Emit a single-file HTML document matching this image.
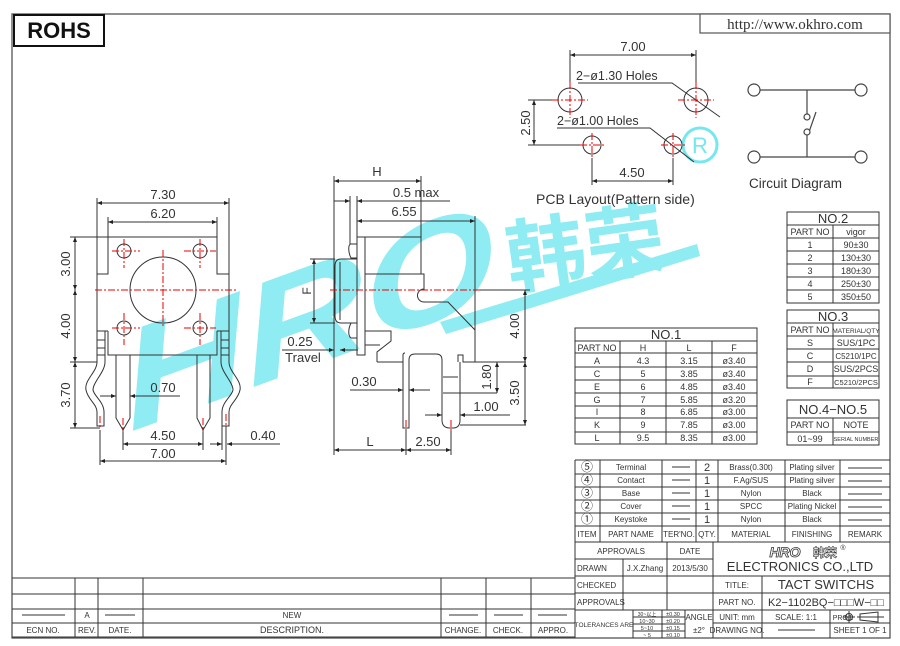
<!DOCTYPE html>
<html><head><meta charset="utf-8"><style>
html,body{margin:0;padding:0;background:#fff;width:900px;height:646px;overflow:hidden}
svg{display:block}
text{font-family:"Liberation Sans","Noto Sans CJK SC",sans-serif;fill:#333}
</style></head><body>
<svg width="900" height="646" viewBox="0 0 900 646" xmlns="http://www.w3.org/2000/svg">
<defs>
<marker id="a" viewBox="0 0 10 10" refX="10" refY="5" markerWidth="7" markerHeight="5" orient="auto-start-reverse" markerUnits="userSpaceOnUse"><path d="M0,1 L10,5 L0,9 z" fill="#222"/></marker>
</defs>

<!-- watermark -->
<g opacity="0.8">
<text x="0" y="0" transform="translate(130,432) rotate(-20) skewX(-12)" font-size="138" font-weight="bold" font-style="italic" textLength="395" lengthAdjust="spacingAndGlyphs" style="fill:#74e8ef">HRO</text>
<text x="0" y="0" transform="translate(510,288) rotate(-8)" font-size="80" font-weight="bold" textLength="160" lengthAdjust="spacingAndGlyphs" style="fill:#74e8ef;font-family:'Noto Sans CJK SC',sans-serif">韩荣</text>
<polygon points="440,322 697,244 700,256 446,334" fill="#74e8ef"/>
</g>
<circle cx="700" cy="145" r="17" fill="none" stroke="#74e8ef" stroke-width="3"/>
<text x="700" y="153" font-size="22" text-anchor="middle" style="fill:#74e8ef">R</text>

<!-- frame -->
<g fill="none" stroke="#555" stroke-width="1.3">
<rect x="12" y="14" width="878" height="624"/>
</g>
<rect x="14" y="15" width="90" height="31" fill="#fff" stroke="#111" stroke-width="2"/>
<text x="59" y="38" font-size="22" font-weight="bold" text-anchor="middle" style="fill:#111">ROHS</text>
<rect x="700" y="14" width="190" height="19" fill="#fff" stroke="#555" stroke-width="1.2"/>
<text x="795" y="29" font-size="15" text-anchor="middle" style="font-family:'Liberation Serif',serif">http://www.okhro.com</text>

<!-- PCB layout -->
<g stroke="#333" stroke-width="1" fill="none">
<circle cx="570" cy="100" r="12"/><circle cx="696" cy="100" r="12"/>
<circle cx="592" cy="145" r="9"/><circle cx="673" cy="145" r="9"/>
<line x1="570" y1="50" x2="570" y2="84"/><line x1="696" y1="50" x2="696" y2="84"/>
<line x1="570" y1="55" x2="696" y2="55" marker-start="url(#a)" marker-end="url(#a)"/>
<polyline points="578,83 672,83 720,117"/>
<polyline points="557,128 650,128 694,162"/>
<line x1="528" y1="100" x2="558" y2="100"/><line x1="528" y1="145" x2="580" y2="145"/>
<line x1="534" y1="100" x2="534" y2="145" marker-start="url(#a)" marker-end="url(#a)"/>
<line x1="592" y1="158" x2="592" y2="185"/><line x1="673" y1="158" x2="673" y2="185"/>
<line x1="592" y1="181" x2="673" y2="181" marker-start="url(#a)" marker-end="url(#a)"/>
</g>
<g stroke="#e00" stroke-width="1" stroke-dasharray="7,2,2,2">
<line x1="552" y1="100" x2="588" y2="100"/><line x1="570" y1="82" x2="570" y2="118"/>
<line x1="678" y1="100" x2="714" y2="100"/><line x1="696" y1="82" x2="696" y2="118"/>
<line x1="580" y1="145" x2="604" y2="145"/><line x1="592" y1="133" x2="592" y2="157"/>
<line x1="661" y1="145" x2="685" y2="145"/><line x1="673" y1="133" x2="673" y2="157"/>
</g>
<text x="633" y="51" font-size="13" text-anchor="middle">7.00</text>
<text x="576" y="80" font-size="12.5">2−ø1.30  Holes</text>
<text x="557" y="125" font-size="12.5">2−ø1.00  Holes</text>
<text x="0" y="0" transform="translate(530,123) rotate(-90)" font-size="13" text-anchor="middle">2.50</text>
<text x="632" y="177" font-size="13" text-anchor="middle">4.50</text>
<text x="536" y="204" font-size="14">PCB  Layout(Pattern  side)</text>

<!-- circuit -->
<g stroke="#444" stroke-width="1.2" fill="#fff">
<line x1="760" y1="90" x2="855" y2="90"/><line x1="760" y1="157" x2="855" y2="157"/>
<line x1="807" y1="90" x2="807" y2="114"/><line x1="807" y1="135" x2="807" y2="157"/>
<line x1="809" y1="132" x2="816" y2="112"/>
<circle cx="754" cy="90" r="6"/><circle cx="861" cy="90" r="6"/>
<circle cx="754" cy="157" r="6"/><circle cx="861" cy="157" r="6"/>
<circle cx="807" cy="117" r="3"/><circle cx="807" cy="132" r="3"/>
</g>
<text x="749" y="188" font-size="13.5">Circuit  Diagram</text>

<!-- front view -->
<g stroke="#333" stroke-width="1" fill="none">
<path d="M97,331 V274 H108 V237 H217 V274 H229 V331"/>
<path d="M108,331 V355 H217 V331"/>
<line x1="97" y1="331" x2="108" y2="331"/><line x1="217" y1="331" x2="229" y2="331"/>
<circle cx="163" cy="290" r="33"/>
<circle cx="124" cy="251" r="7"/><circle cx="200" cy="251" r="7"/>
<circle cx="124" cy="328" r="7"/><circle cx="200" cy="328" r="7"/>
<path d="M97,331 V362 C97,372 84,380 86,390 C88,400 97,404 97,412 V426 H104 V412 C104,402 94,396 93,390 C93,382 105,372 105,362 V331"/>
<path d="M229,331 V362 C229,372 242,380 240,390 C238,400 229,404 229,412 V426 H222 V412 C222,402 232,396 233,390 C233,382 221,372 221,362 V331"/>
<line x1="97" y1="340" x2="105" y2="340"/><line x1="97" y1="348" x2="105" y2="348"/><line x1="97" y1="355" x2="105" y2="355"/>
<line x1="221" y1="340" x2="229" y2="340"/><line x1="221" y1="348" x2="229" y2="348"/><line x1="221" y1="355" x2="229" y2="355"/>
<path d="M116,355 V418 L123,430 L130,418 V355"/>
<path d="M197,355 V418 L203,430 L210,418 V355"/>
<line x1="97" y1="198" x2="97" y2="274"/><line x1="229" y1="198" x2="229" y2="274"/>
<line x1="108" y1="217" x2="108" y2="237"/><line x1="217" y1="217" x2="217" y2="237"/>
<line x1="97" y1="203" x2="229" y2="203" marker-start="url(#a)" marker-end="url(#a)"/>
<line x1="108" y1="222" x2="217" y2="222" marker-start="url(#a)" marker-end="url(#a)"/>
<line x1="70" y1="237" x2="108" y2="237"/><line x1="70" y1="362" x2="97" y2="362"/><line x1="70" y1="428" x2="100" y2="428"/>
<line x1="75" y1="237" x2="75" y2="290" marker-start="url(#a)" marker-end="url(#a)"/>
<line x1="75" y1="290" x2="75" y2="362" marker-start="url(#a)" marker-end="url(#a)"/>
<line x1="75" y1="362" x2="75" y2="428" marker-start="url(#a)" marker-end="url(#a)"/>
<line x1="100" y1="396" x2="116" y2="396" marker-end="url(#a)"/>
<line x1="180" y1="396" x2="130" y2="396" marker-end="url(#a)"/>
<line x1="100" y1="430" x2="100" y2="465"/><line x1="123" y1="430" x2="123" y2="450"/>
<line x1="203" y1="430" x2="203" y2="450"/><line x1="222" y1="426" x2="222" y2="450"/><line x1="226" y1="426" x2="226" y2="465"/>
<line x1="123" y1="444" x2="203" y2="444" marker-start="url(#a)" marker-end="url(#a)"/>
<line x1="210" y1="444" x2="222" y2="444" marker-end="url(#a)"/>
<line x1="280" y1="444" x2="227" y2="444" marker-end="url(#a)"/>
<line x1="100" y1="461" x2="226" y2="461" marker-start="url(#a)" marker-end="url(#a)"/>
</g>
<g stroke="#e00" stroke-width="1" stroke-dasharray="7,2,2,2">
<line x1="95" y1="290" x2="237" y2="290"/><line x1="163" y1="250" x2="163" y2="326"/>
<line x1="112" y1="251" x2="140" y2="251"/><line x1="124" y1="239" x2="124" y2="268"/>
<line x1="184" y1="251" x2="216" y2="251"/><line x1="200" y1="239" x2="200" y2="268"/>
<line x1="112" y1="328" x2="140" y2="328"/><line x1="124" y1="313" x2="124" y2="345"/>
<line x1="184" y1="328" x2="216" y2="328"/><line x1="200" y1="313" x2="200" y2="345"/>
<line x1="100" y1="416" x2="100" y2="428"/><line x1="123" y1="418" x2="123" y2="432"/>
<line x1="203" y1="418" x2="203" y2="432"/><line x1="226" y1="414" x2="226" y2="428"/>
</g>
<g font-size="13" text-anchor="middle">
<text x="163" y="199">7.30</text>
<text x="163" y="218">6.20</text>
<text x="0" y="0" transform="translate(70,264) rotate(-90)">3.00</text>
<text x="0" y="0" transform="translate(70,326) rotate(-90)">4.00</text>
<text x="0" y="0" transform="translate(70,395) rotate(-90)">3.70</text>
<text x="163" y="392">0.70</text>
<text x="163" y="440">4.50</text>
<text x="163" y="458">7.00</text>
<text x="263" y="440">0.40</text>
</g>

<!-- side view -->
<g stroke="#333" stroke-width="1" fill="none">
<rect x="357" y="237" width="8" height="118"/>
<path d="M365,237 H421 V274 H365"/>
<path d="M365,274 H424 V289 A6,6 0 0 0 424,302 H448 L475,330 V362"/>
<path d="M365,331 H391 V341 L377,352 V362"/>
<line x1="365" y1="345" x2="380" y2="345"/>
<path d="M357,244 H351 C348,244 348,252 351,258 H357"/>
<path d="M357,323 H351 C348,329 348,336 351,338 H357"/>
<path d="M357,259 H341 Q335,259 335,266 V316 Q335,323 341,323 H357"/>
<line x1="340" y1="262" x2="340" y2="320"/>
<path d="M377,362 H403 V428 H409 V360 Q409,354 415,354 H436 Q442,354 442,360 V420 Q442,428 450,428 H453 Q460,428 460,420 V362"/>
<path d="M403,362 V355 Q403,353 405,353"/>
<path d="M458,362 V355 H463 V362 H526"/>
<line x1="443" y1="377" x2="458" y2="377"/><line x1="443" y1="393" x2="497" y2="393"/>
<line x1="460" y1="425" x2="526" y2="425"/>
<line x1="334" y1="176" x2="334" y2="455"/>
<line x1="421" y1="176" x2="421" y2="237"/>
<line x1="350" y1="196" x2="350" y2="244"/><line x1="357" y1="196" x2="357" y2="237"/>
<line x1="475" y1="216" x2="475" y2="330"/>
<line x1="334" y1="181" x2="421" y2="181" marker-start="url(#a)" marker-end="url(#a)"/>
<line x1="334" y1="201" x2="350" y2="201" marker-end="url(#a)"/>
<line x1="450" y1="201" x2="357" y2="201" marker-end="url(#a)"/>
<line x1="357" y1="221" x2="475" y2="221" marker-start="url(#a)" marker-end="url(#a)"/>
<line x1="310" y1="259" x2="335" y2="259"/><line x1="310" y1="323" x2="335" y2="323"/>
<line x1="314" y1="259" x2="314" y2="323" marker-start="url(#a)" marker-end="url(#a)"/>
<line x1="282" y1="350" x2="334" y2="350" marker-end="url(#a)"/>
<line x1="358" y1="350" x2="340" y2="350" marker-end="url(#a)"/>
<line x1="475" y1="290" x2="530" y2="290"/>
<line x1="525" y1="290" x2="525" y2="362" marker-start="url(#a)" marker-end="url(#a)"/>
<line x1="525" y1="362" x2="525" y2="425" marker-start="url(#a)" marker-end="url(#a)"/>
<line x1="497" y1="362" x2="497" y2="393" marker-start="url(#a)" marker-end="url(#a)"/>
<line x1="350" y1="390" x2="403" y2="390" marker-end="url(#a)"/>
<line x1="430" y1="390" x2="409" y2="390" marker-end="url(#a)"/>
<line x1="425" y1="415" x2="442" y2="415" marker-end="url(#a)"/>
<line x1="510" y1="415" x2="460" y2="415" marker-end="url(#a)"/>
<line x1="406" y1="430" x2="406" y2="455"/><line x1="451" y1="430" x2="451" y2="455"/>
<line x1="334" y1="450" x2="406" y2="450" marker-start="url(#a)" marker-end="url(#a)"/>
<line x1="406" y1="450" x2="451" y2="450" marker-start="url(#a)" marker-end="url(#a)"/>
</g>
<g stroke="#e00" stroke-width="1" stroke-dasharray="7,2,2,2">
<line x1="330" y1="290" x2="480" y2="290"/>
<line x1="406" y1="420" x2="406" y2="430"/><line x1="451" y1="420" x2="451" y2="432"/>
</g>
<g font-size="13" text-anchor="middle">
<text x="377" y="176">H</text>
<text x="416" y="197">0.5  max</text>
<text x="404" y="216">6.55</text>
<text x="0" y="0" transform="translate(311,291) rotate(-90)" font-size="12">F</text>
<text x="300" y="346">0.25</text>
<text x="303" y="362">Travel</text>
<text x="0" y="0" transform="translate(519,326) rotate(-90)">4.00</text>
<text x="0" y="0" transform="translate(519,393) rotate(-90)">3.50</text>
<text x="0" y="0" transform="translate(491,377) rotate(-90)">1.80</text>
<text x="364" y="386">0.30</text>
<text x="486" y="411">1.00</text>
<text x="370" y="446">L</text>
<text x="428" y="446">2.50</text>
</g>

<!-- NO.1 table -->
<g stroke="#333" stroke-width="1" fill="none">
<rect x="575" y="328" width="182" height="116"/>
<line x1="575" y1="341" x2="757" y2="341"/>
<line x1="575" y1="353" x2="757" y2="353"/><line x1="575" y1="367" x2="757" y2="367"/>
<line x1="575" y1="380" x2="757" y2="380"/><line x1="575" y1="393" x2="757" y2="393"/>
<line x1="575" y1="406" x2="757" y2="406"/><line x1="575" y1="418" x2="757" y2="418"/>
<line x1="575" y1="432" x2="757" y2="432"/>
<line x1="620" y1="341" x2="620" y2="444"/><line x1="666" y1="341" x2="666" y2="444"/><line x1="712" y1="341" x2="712" y2="444"/>
</g>
<g font-size="9" text-anchor="middle">
<text x="666" y="339" font-size="13">NO.1</text>
<text x="597" y="351">PART NO</text><text x="643" y="351">H</text><text x="689" y="351">L</text><text x="734" y="351">F</text>
<text x="597" y="364">A</text><text x="643" y="364">4.3</text><text x="689" y="364">3.15</text><text x="734" y="364">ø3.40</text>
<text x="597" y="377">C</text><text x="643" y="377">5</text><text x="689" y="377">3.85</text><text x="734" y="377">ø3.40</text>
<text x="597" y="390">E</text><text x="643" y="390">6</text><text x="689" y="390">4.85</text><text x="734" y="390">ø3.40</text>
<text x="597" y="403">G</text><text x="643" y="403">7</text><text x="689" y="403">5.85</text><text x="734" y="403">ø3.20</text>
<text x="597" y="415">I</text><text x="643" y="415">8</text><text x="689" y="415">6.85</text><text x="734" y="415">ø3.00</text>
<text x="597" y="428">K</text><text x="643" y="428">9</text><text x="689" y="428">7.85</text><text x="734" y="428">ø3.00</text>
<text x="597" y="441">L</text><text x="643" y="441">9.5</text><text x="689" y="441">8.35</text><text x="734" y="441">ø3.00</text>
</g>

<!-- NO.2 / NO.3 / NO.4-5 -->
<g stroke="#333" stroke-width="1" fill="none">
<rect x="787" y="212" width="92" height="91"/>
<line x1="787" y1="225" x2="879" y2="225"/><line x1="787" y1="238" x2="879" y2="238"/><line x1="787" y1="251" x2="879" y2="251"/>
<line x1="787" y1="264" x2="879" y2="264"/><line x1="787" y1="277" x2="879" y2="277"/><line x1="787" y1="290" x2="879" y2="290"/>
<line x1="833" y1="225" x2="833" y2="303"/>
<rect x="787" y="310" width="92" height="78"/>
<line x1="787" y1="323" x2="879" y2="323"/><line x1="787" y1="336" x2="879" y2="336"/><line x1="787" y1="349" x2="879" y2="349"/>
<line x1="787" y1="362" x2="879" y2="362"/><line x1="787" y1="376" x2="879" y2="376"/>
<line x1="833" y1="323" x2="833" y2="388"/>
<rect x="787" y="400" width="92" height="45"/>
<line x1="787" y1="418" x2="879" y2="418"/><line x1="787" y1="432" x2="879" y2="432"/>
<line x1="833" y1="418" x2="833" y2="445"/>
</g>
<g font-size="9" text-anchor="middle">
<text x="833" y="223" font-size="13">NO.2</text>
<text x="810" y="235">PART NO</text><text x="856" y="235">vigor</text>
<text x="810" y="248">1</text><text x="856" y="248">90±30</text>
<text x="810" y="261">2</text><text x="856" y="261">130±30</text>
<text x="810" y="274">3</text><text x="856" y="274">180±30</text>
<text x="810" y="287">4</text><text x="856" y="287">250±30</text>
<text x="810" y="300">5</text><text x="856" y="300">350±50</text>
<text x="833" y="321" font-size="13">NO.3</text>
<text x="810" y="333">PART NO</text><text x="856" y="333" font-size="6.5">MATERIAL/QTY</text>
<text x="810" y="346">S</text><text x="856" y="346">SUS/1PC</text>
<text x="810" y="359">C</text><text x="856" y="359" font-size="8">C5210/1PC</text>
<text x="810" y="372">D</text><text x="856" y="372">SUS/2PCS</text>
<text x="810" y="385">F</text><text x="856" y="385" font-size="7.5">C5210/2PCS</text>
<text x="833" y="414" font-size="13">NO.4−NO.5</text>
<text x="810" y="428">PART NO</text><text x="856" y="428">NOTE</text>
<text x="810" y="442">01~99</text><text x="856" y="441" font-size="5.5">SERIAL NUMBER</text>
</g>

<!-- title block -->
<g stroke="#333" stroke-width="1" fill="none">
<line x1="575" y1="460" x2="890" y2="460"/>
<line x1="575" y1="460" x2="575" y2="638"/>
<line x1="575" y1="474" x2="890" y2="474"/><line x1="575" y1="487" x2="890" y2="487"/>
<line x1="575" y1="500" x2="890" y2="500"/><line x1="575" y1="513" x2="890" y2="513"/>
<line x1="575" y1="526" x2="890" y2="526"/><line x1="575" y1="542" x2="890" y2="542"/>
<line x1="600" y1="460" x2="600" y2="542"/><line x1="662" y1="460" x2="662" y2="542"/>
<line x1="696" y1="460" x2="696" y2="542"/><line x1="718" y1="460" x2="718" y2="542"/>
<line x1="785" y1="460" x2="785" y2="542"/><line x1="840" y1="460" x2="840" y2="542"/>
<line x1="575" y1="559" x2="713" y2="559"/><line x1="575" y1="576" x2="890" y2="576"/>
<line x1="575" y1="593" x2="890" y2="593"/><line x1="575" y1="610" x2="890" y2="610"/>
<line x1="713" y1="623" x2="890" y2="623"/>
<line x1="623" y1="559" x2="623" y2="610"/><line x1="667" y1="542" x2="667" y2="610"/>
<line x1="713" y1="542" x2="713" y2="638"/><line x1="762" y1="576" x2="762" y2="638"/>
<line x1="830" y1="610" x2="830" y2="638"/>
<line x1="633" y1="610" x2="633" y2="638"/><line x1="662" y1="610" x2="662" y2="638"/><line x1="685" y1="610" x2="685" y2="638"/>
<line x1="633" y1="617" x2="685" y2="617"/><line x1="633" y1="624" x2="685" y2="624"/><line x1="633" y1="631" x2="685" y2="631"/>
<line x1="672" y1="467" x2="690" y2="467"/><line x1="672" y1="480" x2="690" y2="480"/><line x1="672" y1="493" x2="690" y2="493"/>
<line x1="672" y1="506" x2="690" y2="506"/><line x1="672" y1="519" x2="690" y2="519"/>
<line x1="848" y1="468" x2="882" y2="468"/><line x1="848" y1="481" x2="882" y2="481"/><line x1="848" y1="494" x2="882" y2="494"/>
<line x1="848" y1="507" x2="882" y2="507"/><line x1="848" y1="520" x2="882" y2="520"/>
<line x1="778" y1="630" x2="815" y2="630"/>
<circle cx="849" cy="617" r="3.5"/><line x1="843" y1="617" x2="855" y2="617"/><line x1="849" y1="611" x2="849" y2="623"/>
<path d="M860,614 L878,612 V622 L860,620 Z"/><line x1="857" y1="617" x2="884" y2="617"/>
</g>
<g font-size="8" text-anchor="middle">
<text x="587" y="471" font-size="12">⑤</text><text x="587" y="484" font-size="12">④</text><text x="587" y="497" font-size="12">③</text>
<text x="587" y="510" font-size="12">②</text><text x="587" y="523" font-size="12">①</text>
<text x="631" y="470">Terminal</text><text x="631" y="483">Contact</text><text x="631" y="496">Base</text><text x="631" y="509">Cover</text><text x="631" y="522">Keystoke</text>
<text x="707" y="471" font-size="11">2</text><text x="707" y="484" font-size="11">1</text><text x="707" y="497" font-size="11">1</text><text x="707" y="510" font-size="11">1</text><text x="707" y="523" font-size="11">1</text>
<text x="751" y="470">Brass(0.30t)</text><text x="751" y="483">F.Ag/SUS</text><text x="751" y="496">Nylon</text><text x="751" y="509">SPCC</text><text x="751" y="522">Nylon</text>
<text x="812" y="470">Plating silver</text><text x="812" y="483">Plating silver</text><text x="812" y="496">Black</text><text x="812" y="509">Plating Nickel</text><text x="812" y="522">Black</text>
<text x="587" y="537">ITEM</text><text x="631" y="537">PART NAME</text><text x="679" y="537">TER'NO.</text><text x="707" y="537">QTY.</text>
<text x="751" y="537">MATERIAL</text><text x="812" y="537">FINISHING</text><text x="865" y="537">REMARK</text>
<text x="621" y="554">APPROVALS</text><text x="690" y="554">DATE</text>
<text x="577" y="571" text-anchor="start">DRAWN</text><text x="645" y="571">J.X.Zhang</text><text x="690" y="571">2013/5/30</text>
<text x="577" y="588" text-anchor="start">CHECKED</text>
<text x="577" y="605" text-anchor="start">APPROVALS</text>
<text x="604" y="627" font-size="6.5">TOLERANCES ARE</text>
<text x="647" y="616" font-size="5">30~以上</text><text x="673" y="616" font-size="5.5">±0.30</text>
<text x="647" y="623" font-size="5.5">10~30</text><text x="673" y="623" font-size="5.5">±0.20</text>
<text x="647" y="630" font-size="5.5">5~10</text><text x="673" y="630" font-size="5.5">±0.15</text>
<text x="647" y="637" font-size="5.5">~ 5</text><text x="673" y="637" font-size="5.5">±0.10</text>
<text x="699" y="620">ANGLE</text><text x="699" y="633">±2°</text>
<text x="737" y="588" text-anchor="middle">TITLE:</text>
<text x="826" y="589" font-size="13">TACT  SWITCHS</text>
<text x="737" y="605">PART NO.</text>
<text x="826" y="606" font-size="11">K2−1102BQ−□□□W−□□</text>
<text x="737" y="620">UNIT:  mm</text>
<text x="796" y="620">SCALE:  1:1</text>
<text x="843" y="620" font-size="7">PROJ:</text>
<text x="737" y="633">DRAWING NO.</text>
<text x="860" y="633">SHEET  1  OF  1</text>
<text x="800" y="571" font-size="13">ELECTRONICS  CO.,LTD</text>
<text x="785" y="557" font-size="14" font-weight="bold" font-style="italic" style="fill:#fff;stroke:#333;stroke-width:0.8">HRO</text>
<text x="825" y="557" font-size="12" font-weight="bold" style="fill:#fff;stroke:#333;stroke-width:0.6;font-family:'Noto Sans CJK SC',sans-serif">韩荣</text>
<text x="843" y="550" font-size="7">®</text>
</g>

<!-- revision table -->
<g stroke="#333" stroke-width="1" fill="none">
<line x1="12" y1="578" x2="575" y2="578"/><line x1="12" y1="594" x2="575" y2="594"/>
<line x1="12" y1="609" x2="575" y2="609"/><line x1="12" y1="623" x2="575" y2="623"/>
<line x1="12" y1="637" x2="575" y2="637"/>
<line x1="75" y1="578" x2="75" y2="637"/><line x1="98" y1="578" x2="98" y2="637"/>
<line x1="143" y1="578" x2="143" y2="637"/><line x1="441" y1="578" x2="441" y2="637"/>
<line x1="486" y1="578" x2="486" y2="637"/><line x1="531" y1="578" x2="531" y2="637"/>
<line x1="22" y1="615" x2="65" y2="615"/><line x1="105" y1="615" x2="135" y2="615"/>
<line x1="449" y1="615" x2="478" y2="615"/><line x1="494" y1="615" x2="523" y2="615"/><line x1="538" y1="615" x2="567" y2="615"/>
</g>
<g font-size="8" text-anchor="middle">
<text x="87" y="618">A</text><text x="292" y="618">NEW</text>
<text x="43" y="633">ECN  NO.</text><text x="87" y="633">REV.</text><text x="120" y="633">DATE.</text>
<text x="292" y="633" font-size="9">DESCRIPTION.</text><text x="463" y="633">CHANGE.</text><text x="508" y="633">CHECK.</text><text x="553" y="633">APPRO.</text>
</g>
</svg>
</body></html>
